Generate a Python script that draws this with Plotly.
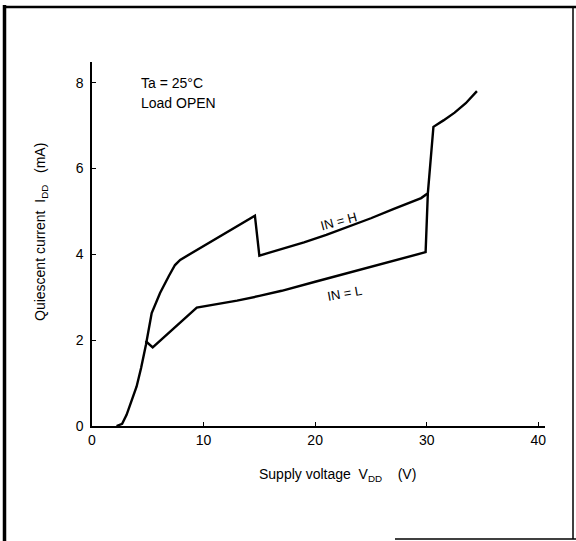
import plotly.graph_objects as go

# IN = H curve
h_x = [2.2, 2.7, 3.1, 3.5, 4.0, 4.4, 4.84, 5.35, 6.1, 6.9, 7.44, 7.9, 14.6, 15.0, 17.0, 19.0, 21.0, 23.0, 25.0, 27.0, 28.5, 29.5, 30.1, 30.6, 31.5, 32.5, 33.5, 34.5]
h_y = [0.0, 0.05, 0.26, 0.55, 0.92, 1.35, 1.9, 2.63, 3.1, 3.5, 3.75, 3.87, 4.9, 3.97, 4.12, 4.28, 4.45, 4.64, 4.84, 5.05, 5.2, 5.31, 5.42, 6.97, 7.12, 7.3, 7.52, 7.8]

# IN = L curve
l_x = [4.8, 5.44, 9.39, 11.0, 13.0, 15.0, 17.0, 20.0, 22.0, 24.6, 26.0, 27.9, 29.0, 29.9, 30.1]
l_y = [1.98, 1.83, 2.76, 2.83, 2.92, 3.03, 3.15, 3.36, 3.5, 3.67, 3.78, 3.91, 3.98, 4.05, 5.42]

x_ticks = [0, 10, 20, 30, 40]
y_ticks = [0, 2, 4, 6, 8]

FONT = "Liberation Sans, Arial, sans-serif"
L, R, T, B = 92, 545, 62, 426
W, H = 576, 541


def px(x):
    return (x - L) / (R - L)


def py(y):
    return (B - y) / (B - T)


fig = go.Figure()
fig.add_trace(go.Scatter(x=h_x, y=h_y, mode="lines",
                         line=dict(color="black", width=2.4), showlegend=False))
fig.add_trace(go.Scatter(x=l_x, y=l_y, mode="lines",
                         line=dict(color="black", width=2.4), showlegend=False))

axis_common = dict(showgrid=False, zeroline=False, showline=True, linecolor="black",
                   linewidth=1.5, ticks="inside", ticklen=4, tickwidth=1.2,
                   tickcolor="black", tickfont=dict(family=FONT, size=14, color="black"))

fig.update_xaxes(range=[0, 40.6], tickvals=x_ticks, **axis_common)
fig.update_yaxes(range=[0, 8.48], tickvals=y_ticks, ticklabelstandoff=4, **axis_common)

nb = "\u00a0"
annotations = [
    dict(x=px(337), y=py(475), text=f"Supply voltage{nb}{nb}V<sub>DD</sub>{nb}{nb}{nb}{nb}(V)",
         font=dict(size=14)),
    dict(x=px(41), y=py(232), text=f"Quiescent current{nb}{nb}I<sub>DD</sub>{nb}{nb}{nb}(mA)",
         textangle=-90, font=dict(size=14)),
    dict(x=px(139), y=py(83), text="Ta = 25°C", xanchor="left", font=dict(size=14)),
    dict(x=px(139), y=py(103), text="Load OPEN", xanchor="left", font=dict(size=14)),
    dict(x=px(338), y=py(221), text="IN = H", textangle=-15, font=dict(size=13)),
    dict(x=px(344), y=py(293), text="IN = L", textangle=-10, font=dict(size=13)),
]
for a in annotations:
    a.update(xref="paper", yref="paper", showarrow=False)
    a.setdefault("xanchor", "center")
    a.setdefault("yanchor", "middle")
    a["font"].update(family=FONT, color="black")

shapes = [
    dict(type="line", x0=px(4.5), x1=px(4.5), y0=py(5), y1=py(541), line=dict(color="black", width=3.5)),
    dict(type="line", x0=px(3), x1=px(576), y0=py(7), y1=py(7), line=dict(color="black", width=2.5)),
    dict(type="line", x0=px(573), x1=px(573), y0=py(7), y1=py(539), line=dict(color="black", width=1.5)),
    dict(type="line", x0=px(395), x1=px(576), y0=py(539), y1=py(539), line=dict(color="black", width=1.5)),
]
for s in shapes:
    s.update(xref="paper", yref="paper")

fig.update_layout(
    width=W, height=H,
    margin=dict(l=L, r=W - R, t=T, b=H - B),
    paper_bgcolor="white", plot_bgcolor="white",
    annotations=annotations, shapes=shapes,
    font=dict(family=FONT, color="black"),
)

fig.write_html("out.html")
